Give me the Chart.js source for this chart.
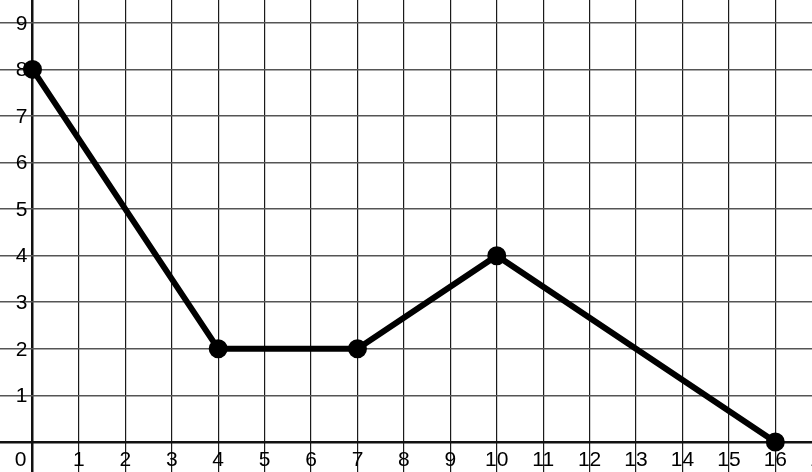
<!DOCTYPE html>
<html><head><meta charset="utf-8">
<script src="https://cdn.jsdelivr.net/npm/chart.js@4"></script>
<style>html,body{margin:0;padding:0;background:#fff}#wrap{width:812px;height:472px}</style>
</head><body><div id="wrap"><canvas id="c" width="812" height="472"></canvas></div>
<script>
const xValues = [0, 4, 7, 10, 16];
const yValues = [8, 2, 2, 4, 0];
const xTickValues = [0,1,2,3,4,5,6,7,8,9,10,11,12,13,14,15,16,17];
const yTickValues = [0,1,2,3,4,5,6,7,8,9];
const xRange = [-0.70, 16.79];
const yRange = [-0.645, 9.49];

const points = xValues.map((x, i) => ({x: x, y: yValues[i]}));

const labelPlugin = {
  id: 'inlineTickLabels',
  afterDatasetsDraw(chart) {
    const ctx = chart.ctx, xs = chart.scales.x, ys = chart.scales.y;
    const ox = xs.getPixelForValue(0), oy = ys.getPixelForValue(0);
    ctx.save();
    ctx.fillStyle = '#000';
    ctx.font = '21px "Liberation Sans", Arial, sans-serif';
    ctx.textBaseline = 'alphabetic';
    ctx.textAlign = 'center';
    xTickValues.forEach(v => {
      const px = v === 0 ? ox - 12 : xs.getPixelForValue(v);
      ctx.fillText(String(v), px, oy + 24);
    });
    ctx.textAlign = 'right';
    ctx.textBaseline = 'middle';
    yTickValues.forEach(v => {
      if (v === 0) return;
      ctx.fillText(String(v), ox - 5, ys.getPixelForValue(v) + 1);
    });
    ctx.restore();
  }
};

new Chart(document.getElementById('c'), {
  type: 'scatter',
  data: { datasets: [{
    data: points, showLine: true, borderColor: '#000', backgroundColor: '#000',
    borderWidth: 6, pointRadius: 6.5, pointHoverRadius: 6.5, tension: 0, clip: false
  }]},
  options: {
    responsive: false, animation: false, maintainAspectRatio: false,
    layout: { padding: 0, autoPadding: false },
    plugins: { legend: { display: false }, tooltip: { enabled: false } },
    scales: {
      x: {
        type: 'linear', min: xRange[0], max: xRange[1], position: 'bottom',
        afterBuildTicks: s => { s.ticks = xTickValues.filter(v => v <= xRange[1]).map(v => ({value: v})); },
        ticks: { display: false },
        grid: { drawTicks: false, color: c => c.tick && c.tick.value === 0 ? '#111' : '#1a1a1a',
          lineWidth: c => c.tick && c.tick.value === 0 ? 2.5 : 1.2 },
        border: { display: false }
      },
      y: {
        type: 'linear', min: yRange[0], max: yRange[1], position: 'left',
        afterBuildTicks: s => { s.ticks = yTickValues.map(v => ({value: v})); },
        ticks: { display: false },
        grid: { drawTicks: false, color: c => c.tick && c.tick.value === 0 ? '#111' : '#555',
          lineWidth: c => c.tick && c.tick.value === 0 ? 2.5 : 1.6 },
        border: { display: false }
      }
    }
  },
  plugins: [labelPlugin]
});
</script></body></html>
